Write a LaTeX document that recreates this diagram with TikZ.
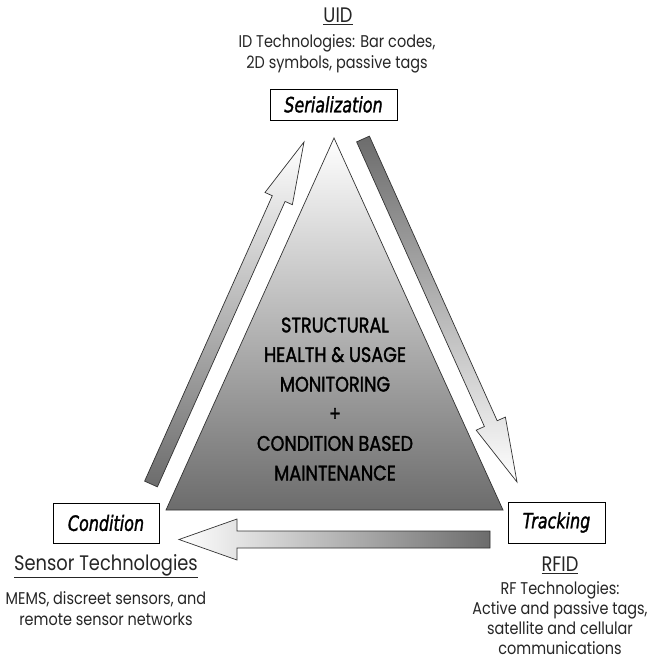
\documentclass[tikz,border=0pt]{standalone}
\usepackage{fontspec}
\setmainfont{Poppins}[FakeStretch=0.85]
\newfontfamily\boxfont{DejaVu Sans}[FakeStretch=0.76, FakeBold=1.4]
\newfontfamily\shmfont{Poppins}[FakeStretch=0.84, FakeBold=1.6]
\usetikzlibrary{calc,positioning}
\tikzstyle{l1}=[line width=0.7]
\tikzstyle{box}=[rectangle, draw=black, fill=white, l1, inner sep=0pt, font=\boxfont\itshape\fontsize{21}{24}\selectfont]
\tikzstyle{arr}=[l1, draw=mline, line join=miter]
\tikzstyle{title}=[font=\fontsize{21}{24}\selectfont, text=black!85]
\tikzstyle{note}=[align=center, font=\fontsize{17}{21}\selectfont, text=black!85]
\definecolor{mgray}{HTML}{6C6C6C}
\definecolor{mline}{HTML}{333333}

\begin{document}
\begin{tikzpicture}[x=1pt, y=-1pt]
    \useasboundingbox[fill=white] (0,0) rectangle (650,671);

    % central triangle
    \coordinate (apex) at (334,138);
    \coordinate (bl) at (166,510);
    \coordinate (br) at (503,510);
    \draw[arr, top color=white, bottom color=mgray] (apex) -- (br) -- (bl) -- cycle;
    \node[align=center, font=\shmfont\fontsize{21}{29.6}\selectfont] (shm) at (335,399)
        {STRUCTURAL\\HEALTH \& USAGE\\MONITORING\\+\\CONDITION BASED\\MAINTENANCE};

    % condition -> serialization
    \coordinate (t1) at (151,484);
    \coordinate (p1) at (304,142);
    \coordinate (h1) at ($(p1)!62pt!(t1)$);
    \draw[arr, top color=white, bottom color=mgray] ($(t1)!7pt!90:(p1)$) -- ($(h1)!7pt!90:(p1)$) -- ($(h1)!15pt!90:(p1)$) -- (p1)
        -- ($(h1)!15pt!-90:(p1)$) -- ($(h1)!7pt!-90:(p1)$) -- ($(t1)!7pt!-90:(p1)$) -- cycle;

    % serialization -> tracking
    \coordinate (t2) at (363,139);
    \coordinate (p2) at (517,482);
    \coordinate (h2) at ($(p2)!64pt!(t2)$);
    \draw[arr, top color=mgray, bottom color=white] ($(t2)!7pt!90:(p2)$) -- ($(h2)!7pt!90:(p2)$) -- ($(h2)!16pt!90:(p2)$) -- (p2)
        -- ($(h2)!16pt!-90:(p2)$) -- ($(h2)!7pt!-90:(p2)$) -- ($(t2)!7pt!-90:(p2)$) -- cycle;

    % tracking -> condition
    \coordinate (t3) at (490,539.5);
    \coordinate (p3) at (179,539.5);
    \coordinate (h3) at ($(p3)!58pt!(t3)$);
    \draw[arr, left color=white, right color=mgray] ($(t3)!8.5pt!90:(p3)$) -- ($(h3)!8.5pt!90:(p3)$) -- ($(h3)!20.5pt!90:(p3)$) -- (p3)
        -- ($(h3)!20.5pt!-90:(p3)$) -- ($(h3)!8.5pt!-90:(p3)$) -- ($(t3)!8.5pt!-90:(p3)$) -- cycle;

    % corners
    \node[box, minimum width=127pt, minimum height=31pt] (ser) at (333.5,104.5) {Serialization};
    \node[box, minimum width=106pt, minimum height=40pt] (con) at (106,523) {Condition};
    \node[box, minimum width=97pt, minimum height=41pt] (tra) at (556.5,522.5) {Tracking};

    \node[title] (uid) at (338,16) {\underline{UID}};
    \node[note] (uidtxt) at (337,53.5) {ID Technologies: Bar codes,\\2D symbols, passive tags};
    \node[title] (sen) at (106,566) {\underline{Sensor Technologies}};
    \node[note] (sentxt) at (106,609) {MEMS, discreet sensors, and\\remote sensor networks};
    \node[title] (rfid) at (560,565) {\underline{RFID}};
    \node[note, font=\fontsize{17}{20}\selectfont] (rfidtxt) at (560,618) {RF Technologies:\\Active and passive tags,\\satellite and cellular\\communications};
\end{tikzpicture}
\end{document}
